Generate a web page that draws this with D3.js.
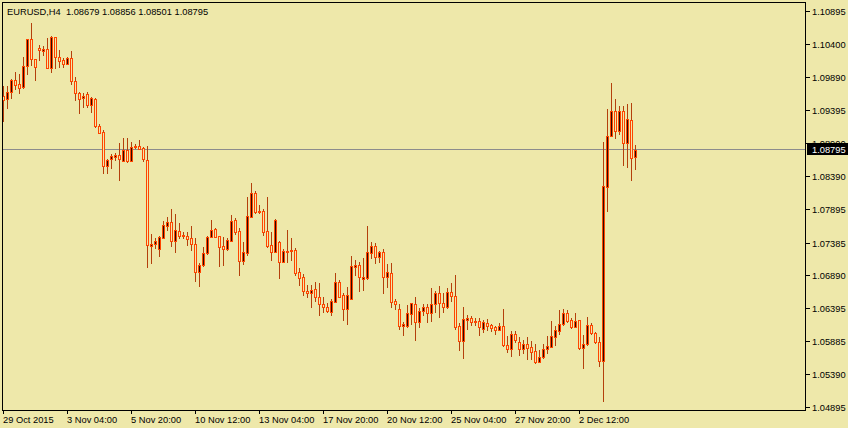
<!DOCTYPE html>
<html>
<head>
<meta charset="utf-8">
<script src="https://cdn.jsdelivr.net/npm/d3@7/dist/d3.min.js"></script>
<style>
  html, body { margin: 0; padding: 0; background: #EEE8AA; }
  svg { display: block; }
  text { font-family: "Liberation Sans", Arial, sans-serif; font-size: 9.3px; fill: #000; }
</style>
</head>
<body>
<svg id="chart" width="848" height="428"></svg>
<script>
const symbolTitle = "EURUSD,H4";
const lastOHLC = ["1.08679", "1.08856", "1.08501", "1.08795"];

const open = [1.09611,1.09556,1.09663,1.09844,1.09784,1.09738,1.10061,1.10466,1.10163,1.10330,
1.10293,1.10315,1.10026,1.10496,1.10193,1.10152,1.10087,1.10178,1.09838,1.09647,
1.09572,1.09632,1.09465,1.09561,1.09156,1.09056,1.08550,1.08647,1.08686,1.08707,
1.08625,1.08788,1.08625,1.08829,1.08853,1.08813,1.08636,1.07337,1.07358,1.07282,
1.07458,1.07640,1.07691,1.07408,1.07559,1.07499,1.07484,1.07449,1.07358,1.06942,
1.07039,1.07221,1.07473,1.07590,1.07484,1.07332,1.07282,1.07412,1.07726,1.07559,
1.07109,1.07221,1.07767,1.08140,1.07863,1.07867,1.07559,1.07347,1.07246,1.07388,
1.07094,1.07246,1.07252,1.07271,1.06933,1.06857,1.06650,1.06615,1.06675,1.06554,
1.06452,1.06402,1.06336,1.06487,1.06782,1.06584,1.06381,1.06533,1.07018,1.07039,
1.06832,1.06842,1.07230,1.07327,1.07170,1.07241,1.06866,1.06918,1.06498,1.06372,
1.06119,1.06119,1.06301,1.06452,1.06184,1.06346,1.06402,1.06311,1.06448,1.06615,
1.06463,1.06412,1.06630,1.06574,1.06119,1.05896,1.06214,1.06236,1.06195,1.06195,
1.06073,1.06169,1.06134,1.06099,1.06058,1.06119,1.05831,1.05770,1.05993,1.05872,
1.05770,1.05846,1.05796,1.05740,1.05578,1.05644,1.05766,1.05805,1.05957,1.06048,
1.06145,1.06311,1.06210,1.06108,1.06210,1.05790,1.05841,1.06134,1.06017,1.05872,
1.05593,1.08231,1.09000,1.09379,1.09080,1.09379,1.08889,1.09242,1.08679];

const high = [1.09758,1.09758,1.09864,1.09975,1.09940,1.10202,1.10470,1.10718,1.10165,1.10380,
1.10369,1.10490,1.10516,1.10498,1.10304,1.10178,1.10202,1.10293,1.09890,1.09672,
1.09656,1.09672,1.09587,1.09572,1.09182,1.09091,1.08656,1.08722,1.08738,1.08898,
1.08965,1.08965,1.08913,1.08879,1.08939,1.08838,1.08848,1.07514,1.07449,1.07484,
1.07716,1.07767,1.07893,1.07813,1.07676,1.07549,1.07544,1.07635,1.07449,1.07079,
1.07312,1.07484,1.07726,1.07609,1.07487,1.07473,1.07449,1.07802,1.07752,1.07600,
1.07397,1.08079,1.08292,1.08170,1.07954,1.07888,1.08079,1.07549,1.07737,1.07408,
1.07282,1.07575,1.07449,1.07297,1.06994,1.06903,1.06741,1.06741,1.06791,1.06766,
1.06554,1.06463,1.06524,1.06927,1.06816,1.06615,1.06715,1.07180,1.07120,1.07094,
1.07155,1.07635,1.07388,1.07373,1.07261,1.07282,1.07059,1.07079,1.06524,1.06452,
1.06184,1.06437,1.06472,1.06554,1.06387,1.06452,1.06448,1.06691,1.06654,1.06725,
1.06615,1.06691,1.06766,1.06892,1.06160,1.06402,1.06281,1.06271,1.06236,1.06236,
1.06210,1.06221,1.06149,1.06119,1.06160,1.06377,1.05967,1.06043,1.06043,1.05957,
1.05907,1.05948,1.05896,1.05846,1.05755,1.05846,1.05967,1.06195,1.06119,1.06362,
1.06372,1.06362,1.06236,1.06321,1.06212,1.05982,1.06255,1.06160,1.06032,1.05948,
1.08913,1.09409,1.09808,1.09561,1.09455,1.09455,1.09485,1.09505,1.08856];

const low = [1.09232,1.09420,1.09581,1.09708,1.09647,1.09735,1.09940,1.10076,1.09849,1.10152,
1.10228,1.10024,1.09975,1.10026,1.10051,1.10051,1.10085,1.09788,1.09546,1.09344,
1.09435,1.09435,1.09359,1.09141,1.09041,1.08434,1.08434,1.08510,1.08636,1.08333,
1.08620,1.08610,1.08620,1.08813,1.08798,1.08621,1.07009,1.07070,1.07297,1.07180,
1.07449,1.07575,1.07337,1.07246,1.07449,1.07449,1.07347,1.07271,1.06806,1.06730,
1.07035,1.07218,1.07464,1.07470,1.07029,1.07044,1.07271,1.07410,1.07509,1.06892,
1.07059,1.07195,1.07765,1.07837,1.07837,1.07499,1.07321,1.07120,1.07243,1.06851,
1.07090,1.07094,1.07120,1.06892,1.06736,1.06589,1.06554,1.06412,1.06498,1.06286,
1.06327,1.06327,1.06286,1.06485,1.06560,1.06210,1.06149,1.06528,1.06892,1.06654,
1.06665,1.06827,1.07155,1.07079,1.07094,1.06624,1.06715,1.06402,1.06372,1.06069,
1.05982,1.06108,1.06145,1.05907,1.06099,1.06286,1.06184,1.06199,1.06336,1.06260,
1.06336,1.06387,1.06498,1.06069,1.05755,1.05638,1.06073,1.06134,1.06134,1.05982,
1.06032,1.06058,1.06048,1.05998,1.06055,1.05816,1.05729,1.05664,1.05881,1.05679,
1.05714,1.05619,1.05619,1.05562,1.05575,1.05638,1.05705,1.05796,1.05831,1.05998,
1.06134,1.06175,1.06084,1.06099,1.05770,1.05487,1.05831,1.05998,1.05866,1.05517,
1.04986,1.07867,1.08995,1.08974,1.09026,1.08560,1.08534,1.08333,1.08501];

const close = [1.09546,1.09663,1.09849,1.09778,1.09732,1.10061,1.10466,1.10163,1.10042,1.10304,
1.10319,1.10026,1.10496,1.10193,1.10142,1.10087,1.10178,1.09829,1.09647,1.09565,
1.09611,1.09465,1.09572,1.09156,1.09050,1.08545,1.08636,1.08701,1.08712,1.08647,
1.08788,1.08625,1.08829,1.08853,1.08803,1.08647,1.07347,1.07362,1.07408,1.07473,
1.07646,1.07691,1.07408,1.07575,1.07488,1.07484,1.07443,1.07358,1.06942,1.07044,
1.07221,1.07464,1.07575,1.07473,1.07321,1.07282,1.07423,1.07711,1.07549,1.07109,
1.07236,1.07787,1.08140,1.07852,1.07852,1.07549,1.07332,1.07246,1.07726,1.07094,
1.07261,1.07261,1.07271,1.06927,1.06842,1.06645,1.06615,1.06665,1.06563,1.06457,
1.06402,1.06342,1.06498,1.06782,1.06563,1.06381,1.06584,1.07024,1.07044,1.06857,
1.06862,1.07246,1.07327,1.07170,1.07241,1.06866,1.06933,1.06487,1.06448,1.06119,
1.06149,1.06311,1.06463,1.06184,1.06346,1.06402,1.06311,1.06448,1.06615,1.06463,
1.06412,1.06630,1.06578,1.06099,1.05896,1.06221,1.06236,1.06184,1.06180,1.06099,
1.06175,1.06119,1.06093,1.06063,1.06119,1.05831,1.05770,1.05993,1.05907,1.05770,
1.05841,1.05790,1.05725,1.05578,1.05644,1.05766,1.05816,1.05967,1.06058,1.06149,
1.06311,1.06195,1.06108,1.06195,1.05790,1.05846,1.06134,1.06008,1.05872,1.05593,
1.08242,1.09000,1.09379,1.09080,1.09379,1.08889,1.09253,1.08671,1.08795];

const yTickLabels = ["1.10895","1.10400","1.09890","1.09395","1.08900","1.08390","1.07895",
  "1.07385","1.06890","1.06395","1.05885","1.05390","1.04895"];
const xTickIndex = [0,16,32,48,64,80,96,112,128,144];
const xTickLabels = ["29 Oct 2015","3 Nov 04:00","5 Nov 20:00","10 Nov 12:00","13 Nov 04:00",
  "17 Nov 20:00","20 Nov 12:00","25 Nov 04:00","27 Nov 20:00","2 Dec 12:00"];
const currentPrice = 1.08795;

// ---- layout ----
const W = 848, H = 428;
const plot = { left: 2, top: 2, right: 806, bottom: 410 };
const colors = {
  bg: "#EEE8AA", frame: "#000000", outline: "#FF4500", wick: "#B4400C",
  bullFill: "#2A0C00", priceLine: "#8C8C8C"
};

const n = open.length;
const x = d3.scaleLinear().domain([0, n - 1]).range([3, 3 + 4 * (n - 1)]);
const y = d3.scaleLinear().domain([1.04845, 1.11032]).range([plot.bottom, plot.top]);

const svg = d3.select("#chart");
svg.append("rect").attr("width", W).attr("height", H).attr("fill", colors.bg);

const candles = d3.range(n).map(i => ({
  i, o: open[i], c: close[i],
  h: Math.max(high[i], open[i], close[i]),
  l: Math.min(low[i], open[i], close[i])
}));

const g = svg.append("g").attr("shape-rendering", "crispEdges");

// price line
const py = Math.floor(y(currentPrice)) + 0.5;
g.append("line")
  .attr("x1", plot.left).attr("x2", plot.right).attr("y1", py).attr("y2", py)
  .attr("stroke", colors.priceLine).attr("stroke-width", 1);

// wicks
g.selectAll("rect.wick").data(candles).join("rect")
  .attr("class", "wick")
  .attr("x", d => Math.round(x(d.i)))
  .attr("width", 1)
  .attr("y", d => Math.round(y(d.h)))
  .attr("height", d => Math.max(1, Math.round(y(d.l)) - Math.round(y(d.h)) + 1))
  .attr("fill", colors.wick);

// bodies
g.selectAll("rect.body").data(candles).join("rect")
  .attr("class", "body")
  .attr("x", d => Math.round(x(d.i)) - 0.5)
  .attr("width", 2)
  .attr("y", d => Math.round(y(Math.max(d.o, d.c))) + 0.5)
  .attr("height", d => Math.max(0.001, Math.round(y(Math.min(d.o, d.c))) - Math.round(y(Math.max(d.o, d.c)))))
  .attr("fill", d => d.c > d.o ? colors.bullFill : colors.bg)
  .attr("stroke", colors.outline)
  .attr("stroke-width", 1);

// doji marks
g.selectAll("line.doji").data(candles.filter(d => Math.round(y(d.o)) === Math.round(y(d.c)))).join("line")
  .attr("class", "doji")
  .attr("x1", d => Math.round(x(d.i)) - 1).attr("x2", d => Math.round(x(d.i)) + 2)
  .attr("y1", d => Math.round(y(d.o)) + 0.5).attr("y2", d => Math.round(y(d.o)) + 0.5)
  .attr("stroke", colors.outline);

// frame
g.append("rect")
  .attr("x", plot.left + 0.5).attr("y", plot.top + 0.5)
  .attr("width", plot.right - plot.left - 1).attr("height", plot.bottom - plot.top)
  .attr("fill", "none").attr("stroke", colors.frame);

// y axis ticks and labels
const yt = svg.append("g");
yTickLabels.forEach(lbl => {
  const v = parseFloat(lbl);
  const ty = Math.round(y(v)) + 0.5;
  yt.append("line").attr("x1", plot.right).attr("x2", plot.right + 4)
    .attr("y1", ty).attr("y2", ty).attr("stroke", "#000").attr("shape-rendering", "crispEdges");
  yt.append("text").attr("x", plot.right + 6).attr("y", ty + 3.2).text(lbl);
});

// x axis ticks and labels
const xt = svg.append("g");
xTickIndex.forEach((idx, k) => {
  const tx = Math.round(x(idx)) + 0.5;
  xt.append("line").attr("x1", tx).attr("x2", tx)
    .attr("y1", plot.bottom).attr("y2", plot.bottom + 4)
    .attr("stroke", "#000").attr("shape-rendering", "crispEdges");
  xt.append("text").attr("x", tx - 0.5).attr("y", 422.5).text(xTickLabels[k]);
});

// current price label
svg.append("rect").attr("x", plot.right + 1).attr("y", py - 6.5)
  .attr("width", W - plot.right - 1).attr("height", 12).attr("fill", "#000")
  .attr("shape-rendering", "crispEdges");
svg.append("text").attr("x", plot.right + 6).attr("y", py + 3.2)
  .style("fill", "#fff").text(d3.format(".5f")(currentPrice));

// title
svg.append("text").attr("x", 7).attr("y", 15)
  .text(symbolTitle + "\u00a0\u00a0" + lastOHLC.join(" "));
</script>
</body>
</html>
